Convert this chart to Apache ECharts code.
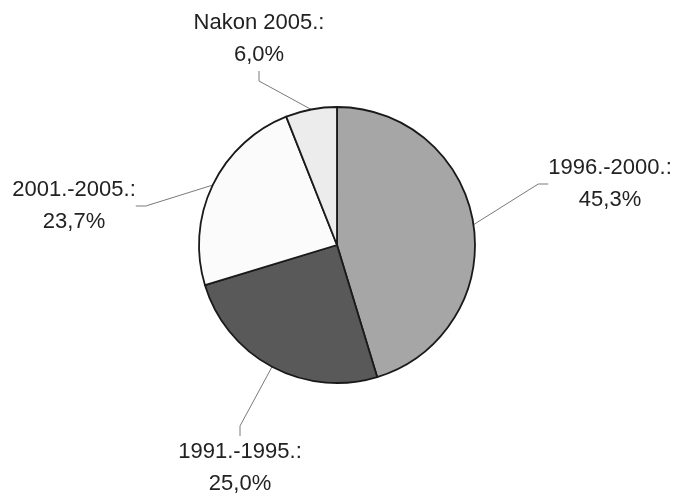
<!DOCTYPE html>
<html><head><meta charset="utf-8">
<script src="https://cdn.jsdelivr.net/npm/echarts@6/dist/echarts.min.js"></script>
<style>html,body{margin:0;padding:0;background:#fff}#c{width:675px;height:493px}</style>
</head><body><div id="c"></div>
<script>
var categories = ['1996.-2000.', '1991.-1995.', '2001.-2005.', 'Nakon 2005.'];
var values = [45.3, 25.0, 23.7, 6.0];
var colors = ['#a6a6a6', '#595959', '#fbfbfb', '#ececec'];
var labelPos = [[610, 184], [240, 468], [74, 206], [259, 39]];

var chart = echarts.init(document.getElementById('c'));
chart.setOption({
  animation: false,
  backgroundColor: '#fff',
  series: [{
    type: 'pie',
    center: [337, 245],
    radius: 138,
    startAngle: 90,
    clockwise: true,
    avoidLabelOverlap: false,
    data: categories.map(function (n, i) {
      return { name: n, value: values[i], itemStyle: { color: colors[i] } };
    }),
    itemStyle: { borderColor: '#1a1a1a', borderWidth: 1.8 },
    label: {
      show: true,
      position: 'outside',
      formatter: function (p) { return p.name + ':\n' + p.value.toFixed(1).replace('.', ',') + '%'; },
      fontFamily: 'Liberation Sans, Arial, sans-serif',
      fontSize: 22,
      lineHeight: 32,
      color: '#222',
      align: 'center'
    },
    labelLine: { show: true, lineStyle: { color: '#7a7a7a', width: 1 }, length: 30, length2: 10 },
    labelLayout: function (params) {
      var p = labelPos[params.dataIndex];
      return { x: p[0], y: p[1], align: 'center', verticalAlign: 'middle' };
    }
  }]
});
</script></body></html>
